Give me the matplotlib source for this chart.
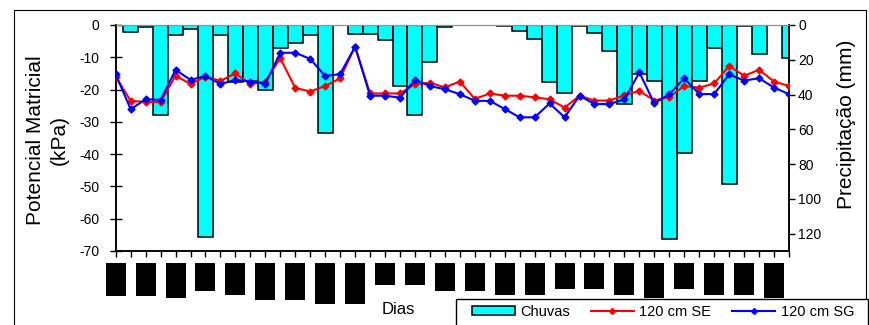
import numpy as np
import matplotlib
matplotlib.use("Agg")
import matplotlib.pyplot as plt
from matplotlib.patches import Rectangle, Patch
from matplotlib.lines import Line2D
from matplotlib import transforms

plt.rcParams['font.family'] = ['Liberation Sans', 'DejaVu Sans']
plt.rcParams['axes.unicode_minus'] = False

# Daily rainfall (mm) and matric potential at 120 cm (kPa)
chuvas = [0, 4, 1, 52, 6, 2.5, 122, 6, 33, 32, 37.5, 13, 10.5, 6, 62, 0,
          5, 5, 8.5, 35, 52, 21.5, 1, 0, 0, 0, 0.7, 3.7, 8.3, 32.7, 39.4, 0.7,
          4.8, 15, 45.6, 28.3, 32, 123, 73.5, 32, 13, 91.4, 0.7, 16.4, 0, 18.7]
se_120 = [-16.0, -23.5, -23.8, -23.9, -15.7, -18.3, -16.0, -17.3, -15.0, -18.3,
          -17.5, -10.3, -19.5, -20.6, -18.9, -16.5, -6.7, -21.2, -21.2, -21.2,
          -18.3, -17.9, -19.3, -17.5, -22.9, -21.2, -21.9, -21.9, -22.4, -23.0,
          -25.6, -21.9, -23.4, -23.4, -21.8, -20.4, -23.4, -22.2, -18.9, -19.4,
          -18.1, -12.7, -15.7, -13.9, -17.5, -18.9]
sg_120 = [-15.3, -26.1, -23.0, -23.2, -13.9, -17.0, -15.8, -18.3, -17.0, -17.5,
          -18.2, -8.6, -8.6, -10.5, -15.8, -15.2, -6.7, -21.9, -21.9, -22.5,
          -17.0, -18.9, -19.9, -21.4, -23.5, -23.5, -26.0, -28.6, -28.6, -24.3,
          -28.6, -21.9, -24.5, -24.5, -23.0, -14.7, -24.3, -21.4, -16.5, -21.4,
          -21.4, -15.3, -17.2, -16.5, -19.4, -21.4]
kpa_ticks = [-70, -60, -50, -40, -30, -20, -10, 0]
mm_ticks = [0, 20, 40, 60, 80, 100, 120]

# lengths (px) of the blacked-out date labels, one per two days
label_box_px = [33, 33, 35, 28, 31.7, 37, 37, 40.7, 40.7, 21.7, 21.7, 28,
                28, 31.7, 31.7, 26, 26, 31.7, 34.7, 26, 31.7, 31.7, 34.7]

W, H = 869, 325
fig = plt.figure(figsize=(W / 100, H / 100), dpi=100)

x_l, x_r, y_t, y_b = 115.7, 789.0, 25.0, 251.0
ax = fig.add_axes([x_l / W, 1 - y_b / H, (x_r - x_l) / W, (y_b - y_t) / H])
ax2 = ax.twinx()

days = np.arange(len(chuvas))
rain = np.array(chuvas, dtype=float)
wet = rain > 0

# rainfall bars hanging from the top (inverted right axis)
ax2.bar(days[wet], rain[wet], width=1.0, color='#00FFFF', edgecolor='black',
        linewidth=1.1, zorder=2)
ax2.set_ylim(130, 0)
ax2.set_yticks(mm_ticks)
ax2.tick_params(axis='y', direction='out', length=4, width=1, pad=2.5,
                labelsize=10, colors='black')

ax.set_zorder(ax2.get_zorder() + 1)
ax.patch.set_visible(False)

ax.plot(days, se_120, color='#FF0000', lw=1.5, marker='D', markersize=3.5,
        zorder=3)
ax.plot(days, sg_120, color='#0000FF', lw=1.5, marker='D', markersize=3.5,
        zorder=4)

ax.set_xlim(0, len(chuvas) - 1)
ax.set_ylim(-70, 0)
ax.set_yticks(kpa_ticks)
ax.set_xticks(days)
ax.tick_params(axis='y', direction='inout', length=8, width=1, pad=7.5,
               labelsize=10)
ax.tick_params(axis='x', direction='out', length=4, width=1,
               labelbottom=False)

for a in (ax, ax2):
    a.spines['top'].set_color('#909090')
    a.spines['top'].set_linewidth(0.8)
    for s in ('left', 'right', 'bottom'):
        a.spines[s].set_linewidth(1.1)

# blacked-out date labels under every second day
blend = transforms.blended_transform_factory(ax.transData, fig.transFigure)
box_w = 20.0 / ((x_r - x_l) / (len(chuvas) - 1))
for k, h in enumerate(label_box_px):
    d = days[2 * k]
    fig.add_artist(Rectangle((d - box_w / 2, 1 - (263 + h) / H), box_w, h / H,
                             transform=blend, facecolor='black',
                             edgecolor='none'))

# outer chart frame
fig.add_artist(Rectangle((14 / W, -0.05), (866 - 14) / W, 1 - 10 / H + 0.05,
                         transform=fig.transFigure, fill=False,
                         edgecolor='black', linewidth=0.8, zorder=0))

fig.text(47.5 / W, 1 - 140 / H, "Potencial Matricial\n(kPa)", rotation=90,
         ha='center', va='center', fontsize=15, linespacing=1.3,
         multialignment='center')
fig.text(846 / W, 1 - 124 / H, "Precipitação (mm)", rotation=90,
         ha='center', va='center', fontsize=15)
fig.text(398 / W, 1 - 309 / H, "Dias", ha='center', va='center', fontsize=12)

# legend box
fig.add_artist(Rectangle((456 / W, -0.05), (868 - 456) / W, 1 - 299 / H + 0.05,
                         transform=fig.transFigure, facecolor='white',
                         edgecolor='black', linewidth=1.0, zorder=5))
handles = [
    Patch(facecolor='#00FFFF', edgecolor='black', linewidth=1.1),
    Line2D([], [], color='#FF0000', lw=1.5, marker='D', markersize=3),
    Line2D([], [], color='#0000FF', lw=1.5, marker='D', markersize=3),
]
leg = fig.legend(handles, ["Chuvas", "120 cm SE", "120 cm SG"],
                 loc='center left', bbox_to_anchor=(465 / W, 1 - 311.5 / H),
                 bbox_transform=fig.transFigure, ncol=3, frameon=False,
                 fontsize=10.5, borderpad=0, handlelength=2.9,
                 handleheight=0.55, handletextpad=0.4, columnspacing=1.45,
                 numpoints=1)
leg.set_zorder(6)

fig.savefig("out.png", dpi=100)
